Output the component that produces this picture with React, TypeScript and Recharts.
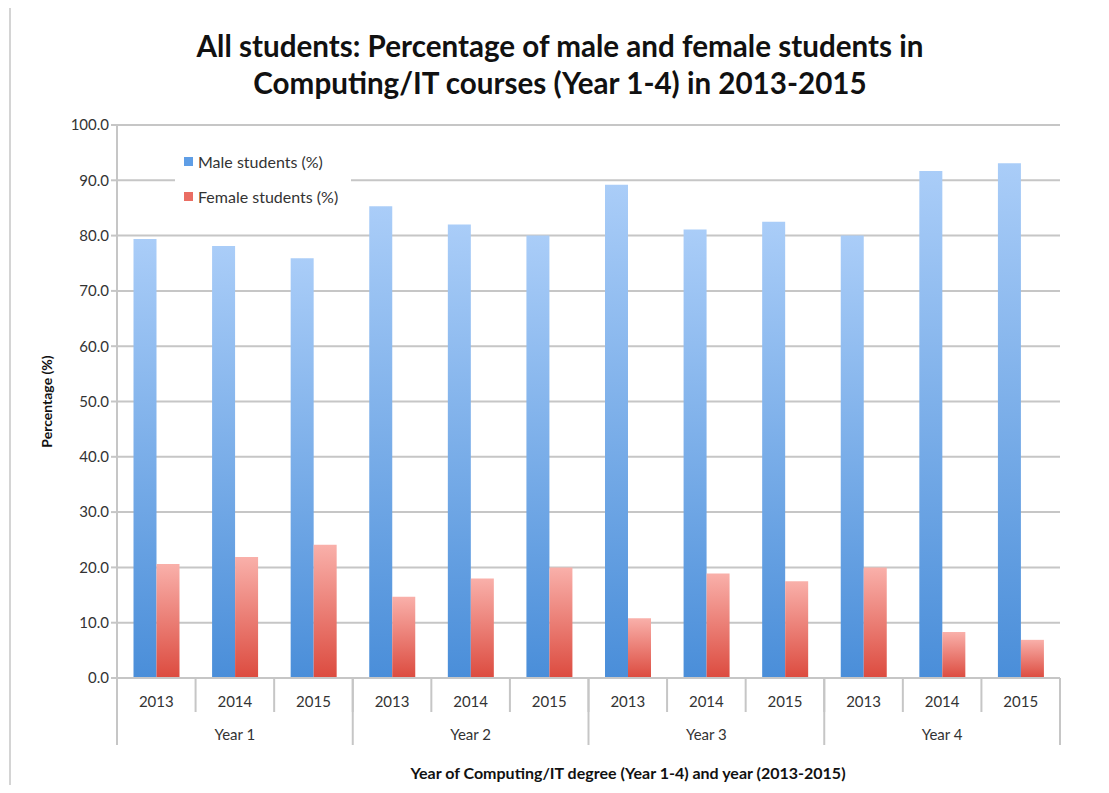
import React from "react";
import { Bar, BarChart, CartesianGrid, XAxis, YAxis } from "recharts";

const years = ["2013", "2014", "2015", "2013", "2014", "2015", "2013", "2014", "2015", "2013", "2014", "2015"];
const groups = ["Year 1", "Year 1", "Year 1", "Year 2", "Year 2", "Year 2", "Year 3", "Year 3", "Year 3", "Year 4", "Year 4", "Year 4"];
const male = [79.4, 78.1, 75.9, 85.3, 82.0, 80.0, 89.2, 81.1, 82.5, 80.0, 91.7, 93.1];
const female = [20.6, 21.9, 24.1, 14.7, 18.0, 20.0, 10.8, 18.9, 17.5, 20.0, 8.3, 6.9];
const yTicks = [0, 10, 20, 30, 40, 50, 60, 70, 80, 90, 100];
const legendItems = [
  { label: "Male students (%)", color: "#5f9ee6" },
  { label: "Female students (%)", color: "#ea6d63" },
];

const data = years.map((year, i) => ({ year, group: groups[i], male: male[i], female: female[i] }));

const FONT = "Lato, 'Open Sans', sans-serif";
const LINE = "#c6c6c6";
const BAND = (1060 - 117) / years.length;

function YearTick(props: any) {
  const { x, y, payload, index } = props;
  const left = x - BAND / 2;
  return (
    <g>
      <line x1={left} y1={y} x2={left} y2={y + 34} stroke={LINE} strokeWidth={2} />
      {index === years.length - 1 && <line x1={x + BAND / 2} y1={y} x2={x + BAND / 2} y2={y + 34} stroke={LINE} strokeWidth={2} />}
      <text x={x} y={y + 29} textAnchor="middle" fontSize={15} fill="#333" fontFamily={FONT}>
        {payload.value}
      </text>
    </g>
  );
}

function GroupTick(props: any) {
  const { x, y, payload, index } = props;
  return (
    <g>
      {index % 3 === 0 && <line x1={x - BAND / 2} y1={y - 34} x2={x - BAND / 2} y2={y + 33} stroke={LINE} strokeWidth={2} />}
      {index === years.length - 1 && <line x1={x + BAND / 2} y1={y - 34} x2={x + BAND / 2} y2={y + 33} stroke={LINE} strokeWidth={2} />}
      {index % 3 === 1 && (
        <text x={x} y={y + 28} textAnchor="middle" fontSize={15} fill="#333" fontFamily={FONT}>
          {payload.value}
        </text>
      )}
    </g>
  );
}

export default function App() {
  return (
    <div style={{ position: "relative", margin: -8, width: 1109, height: 793, overflow: "hidden", background: "#fff" }}>
      <div style={{ position: "absolute", left: 9, top: 6, width: 1130, height: 782, border: "2px solid #d4d4d4" }} />
      <div
        style={{
          position: "absolute",
          left: 0,
          top: 27,
          width: 1120,
          textAlign: "center",
          fontFamily: FONT,
          fontWeight: 700,
          fontSize: 29.6,
          lineHeight: "37px",
          color: "#111",
        }}
      >
        All students: Percentage of male and female students in
        <br />
        Computing/IT courses (Year 1-4) in 2013-2015
      </div>
      <div
        style={{
          position: "absolute",
          left: 0,
          top: 763,
          width: 1256,
          textAlign: "center",
          fontFamily: FONT,
          fontWeight: 700,
          fontSize: 16,
          color: "#111",
        }}
      >
        Year of Computing/IT degree (Year 1-4) and year (2013-2015)
      </div>
      <div style={{ position: "absolute", left: 0, top: 0 }}>
        <BarChart width={1109} height={793} data={data} margin={{ top: 125, right: 49, left: 0, bottom: 48 }} barCategoryGap="21%" barGap={0}>
          <defs>
            <linearGradient id="maleGrad" x1="0" y1="0" x2="0" y2="1">
              <stop offset="0%" stopColor="#aacdf8" />
              <stop offset="100%" stopColor="#4a8ed9" />
            </linearGradient>
            <linearGradient id="femaleGrad" x1="0" y1="0" x2="0" y2="1">
              <stop offset="0%" stopColor="#f9b0aa" />
              <stop offset="100%" stopColor="#dc4b3f" />
            </linearGradient>
          </defs>
          <CartesianGrid vertical={false} stroke={LINE} strokeWidth={2} />
          <XAxis
            dataKey="year"
            xAxisId={0}
            interval={0}
            height={34}
            tickSize={0}
            tickMargin={0}
            tickLine={false}
            axisLine={{ stroke: LINE, strokeWidth: 2 }}
            tick={<YearTick />}
          />
          <XAxis
            dataKey="group"
            xAxisId={1}
            interval={0}
            height={33}
            tickSize={0}
            tickMargin={0}
            tickLine={false}
            axisLine={false}
            tick={<GroupTick />}
            allowDuplicatedCategory
          />
          <YAxis
            domain={[0, 100]}
            ticks={yTicks}
            width={117}
            tickFormatter={(v) => v.toFixed(1)}
            tick={{ fontSize: 15, fill: "#333", fontFamily: FONT }}
            tickLine={{ stroke: LINE, strokeWidth: 2 }}
            tickSize={6}
            axisLine={{ stroke: LINE, strokeWidth: 2 }}
            label={{
              value: "Percentage (%)",
              angle: -90,
              position: "insideLeft",
              offset: 47,
              style: { fontSize: 14, fontWeight: 700, fill: "#111", fontFamily: FONT, textAnchor: "middle" },
            }}
          />
          <Bar dataKey="male" xAxisId={0} fill="url(#maleGrad)" isAnimationActive={false} />
          <Bar dataKey="female" xAxisId={0} fill="url(#femaleGrad)" isAnimationActive={false} />
        </BarChart>
      </div>
      <div style={{ position: "absolute", left: 175, top: 144, width: 176, height: 70, background: "#fff" }}>
        {legendItems.map((it) => (
          <div key={it.label} style={{ display: "flex", alignItems: "center", height: 35, paddingLeft: 9, fontSize: 16, color: "#333", fontFamily: FONT }}>
            <span style={{ display: "inline-block", width: 9, height: 9, background: it.color, marginRight: 5 }} />
            {it.label}
          </div>
        ))}
      </div>
    </div>
  );
}
